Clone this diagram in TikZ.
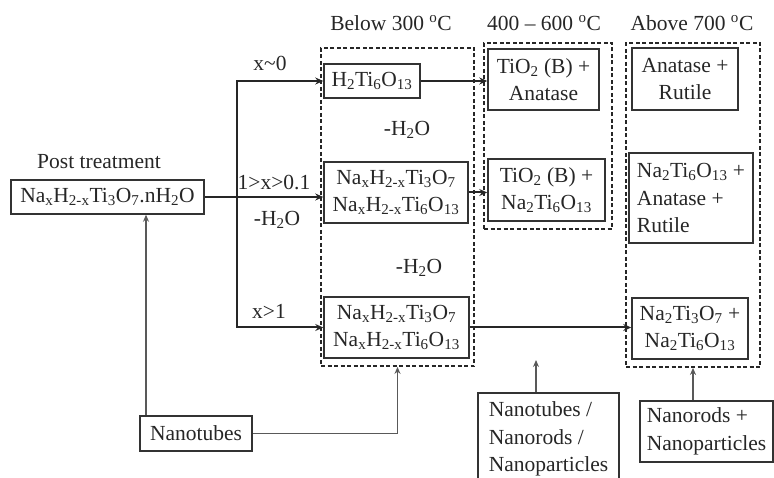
\documentclass[tikz,border=0pt]{standalone}
\usepackage{fontspec}
\setmainfont{Liberation Serif}
\usetikzlibrary{arrows.meta,positioning}

\begin{document}
\begin{tikzpicture}[x=1pt, y=1pt,
        box/.style={rectangle, draw=black!80, line width=1.5pt, inner sep=3pt, align=center, text=black!85},
        group/.style={rectangle, draw=black!85, line width=1.8pt, dash pattern=on 4pt off 2.5pt},
        arrow/.style={-{Stealth[length=8pt,width=7pt]}, line width=2pt, draw=black!85},
        feed/.style={-{Stealth[length=7pt,width=6pt]}, line width=1.5pt, draw=black!65},
        note/.style={text=black!85, inner sep=1pt},
        font=\fontsize{21.5}{27.5}\selectfont,
      ]
      \useasboundingbox (0,0) rectangle (774,477);
      % temperature ranges
      \node [note] (t1) at (391,454) {Below 300 \textsuperscript{o}C};
      \node [note] (t2) at (544,454) {400 -- 600 \textsuperscript{o}C};
      \node [note] (t3) at (692,454) {Above 700 \textsuperscript{o}C};
      \node [group, minimum width=153, minimum height=318] (g1) at (397.5,270) {};
      \node [group, minimum width=128, minimum height=186] (g2) at (548,341) {};
      \node [group, minimum width=134, minimum height=324] (g3) at (693,272) {};
      % starting material
      \node [note] (post) at (99,315) {Post treatment};
      \node [box, minimum width=193, minimum height=34] (src) at (107.5,280) {Na\textsubscript{x}H\textsubscript{2-x}Ti\textsubscript{3}O\textsubscript{7}.nH\textsubscript{2}O};
      % below 300
      \node [box, minimum width=96, minimum height=34] (hto) at (372,396) {H\textsubscript{2}Ti\textsubscript{6}O\textsubscript{13}};
      \node [box, minimum width=144, minimum height=61] (nah1) at (396,284.5) {Na\textsubscript{x}H\textsubscript{2-x}Ti\textsubscript{3}O\textsubscript{7}\\Na\textsubscript{x}H\textsubscript{2-x}Ti\textsubscript{6}O\textsubscript{13}};
      \node [box, minimum width=145, minimum height=61] (nah2) at (396.5,149.5) {Na\textsubscript{x}H\textsubscript{2-x}Ti\textsubscript{3}O\textsubscript{7}\\Na\textsubscript{x}H\textsubscript{2-x}Ti\textsubscript{6}O\textsubscript{13}};
      % 400 - 600
      \node [box, minimum width=111, minimum height=61] (tiob1) at (543.5,397.5) {TiO\textsubscript{2} (B) +\\Anatase};
      \node [box, minimum width=117, minimum height=62] (tiob2) at (546.5,287) {TiO\textsubscript{2} (B) +\\Na\textsubscript{2}Ti\textsubscript{6}O\textsubscript{13}};
      % above 700
      \node [box, minimum width=106, minimum height=62] (anru) at (685,398) {Anatase +\\Rutile};
      \node [box, minimum width=124, minimum height=90, align=left] (naanru) at (691,279) {Na\textsubscript{2}Ti\textsubscript{6}O\textsubscript{13} +\\Anatase +\\Rutile};
      \node [box, minimum width=116, minimum height=61] (nana) at (690,148.5) {Na\textsubscript{2}Ti\textsubscript{3}O\textsubscript{7} +\\Na\textsubscript{2}Ti\textsubscript{6}O\textsubscript{13}};
      % morphologies
      \node [box, minimum width=112, minimum height=35] (tubes) at (196,43.5) {Nanotubes};
      \node [box, minimum width=141, minimum height=92, align=left] (mix) at (548.5,38) {Nanotubes /\\Nanorods /\\Nanoparticles};
      \node [box, minimum width=133, minimum height=61, align=left] (rods) at (706.5,45.5) {Nanorods +\\Nanoparticles};
      % composition branches
      \draw [arrow] (src.east) -- (src.east -| nah1.west);
      \path (src.east) -- ++(32,0) coordinate (split);
      \draw [arrow] (split) |- (hto.west);
      \draw [arrow] (split) |- (nah2.west);
      \node [note] at (270,414) {x\textasciitilde0};
      \node [note] at (274,294) {1>x>0.1};
      \node [note] at (277,257) {-H\textsubscript{2}O};
      \node [note] at (269,166) {x>1};
      \node [note] at (407,347) {-H\textsubscript{2}O};
      \node [note] at (419,209) {-H\textsubscript{2}O};
      % heating
      \draw [arrow] (hto.east) -- (hto.east -| tiob1.west);
      \draw [arrow] (nah1.east) -- (nah1.east -| tiob2.west);
      \draw [arrow] (nah2.east) -- (nah2.east -| nana.west);
      % morphology links
      \coordinate (up) at (146,0);
      \draw [feed] (tubes.north -| up) -- (src.south -| up);
      \draw [feed] (tubes.east) -| (g1.south);
      \coordinate (mixtip) at (536,117);
      \draw [feed] (mix.north -| mixtip) -- (mixtip);
      \draw [feed] (rods.north -| g3.south) -- (g3.south);
    \end{tikzpicture}
\end{document}
